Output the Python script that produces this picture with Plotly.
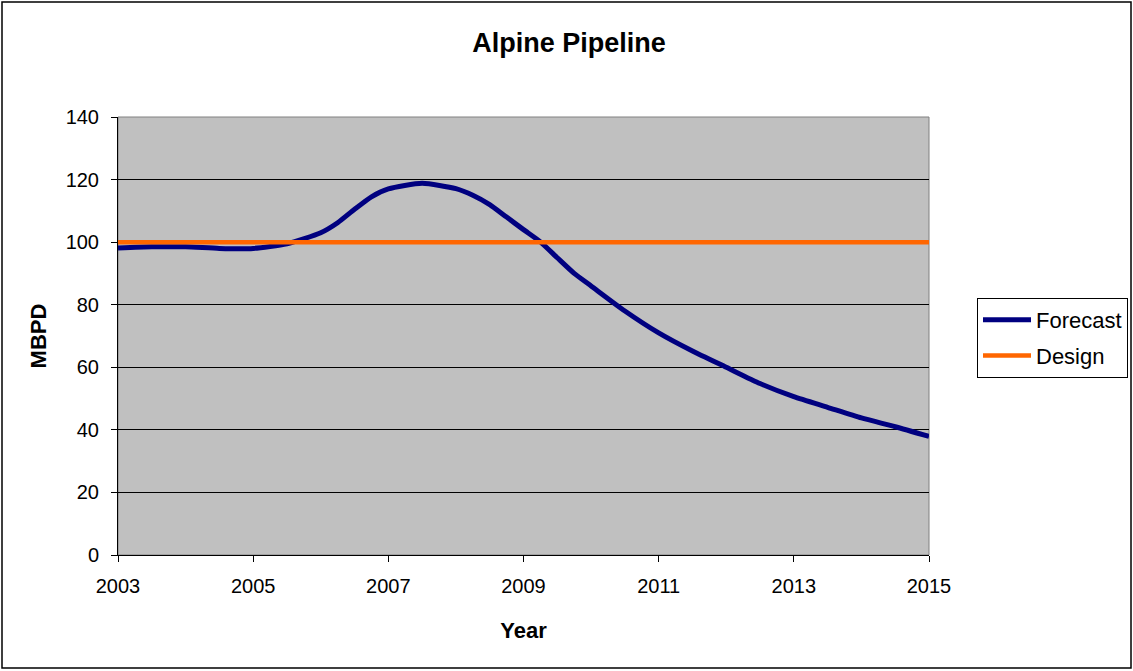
import plotly.graph_objects as go

# Forecast throughput (thousand barrels per day) by year
years = [2003.0, 2003.5, 2004.0, 2004.5, 2005.0, 2005.5, 2006.0, 2006.25, 2006.5,
         2006.75, 2007.0, 2007.5, 2008.0, 2008.25, 2008.5, 2008.75, 2009.0, 2009.25,
         2009.5, 2009.75, 2010.0, 2010.5, 2011.0, 2011.5, 2012.0, 2012.5, 2013.0,
         2013.5, 2014.0, 2014.5, 2015.0]
forecast = [98.1, 98.5, 98.5, 98.0, 98.0, 99.5, 103.0, 106.2, 110.5,
            114.5, 117.0, 118.8, 117.1, 115.0, 112.0, 108.0, 104.0, 100.1,
            95.0, 90.0, 86.0, 78.0, 71.0, 65.2, 60.0, 54.8, 50.6,
            47.2, 43.8, 41.0, 37.9]
design_years = [2003, 2015]
design = [100, 100]

font = "Liberation Sans, Arial, sans-serif"

fig = go.Figure()
fig.add_trace(go.Scatter(x=years, y=forecast, mode="lines", name="Forecast",
                         legendgroup="forecast",
                         line=dict(color="#000080", width=5, shape="spline", smoothing=0.6)))
fig.add_trace(go.Scatter(x=design_years, y=design, mode="lines", name="Design",
                         legendgroup="design",
                         line=dict(color="#FF6600", width=4.5)))

W, H = 1133, 671
ml, mr, mt, mb = 118, 204, 117, 116
pw, ph = W - ml - mr, H - mt - mb

def px_x(p):
    return (p - ml) / pw

def px_y(p):
    return (H - mb - p) / ph

fig.update_layout(
    width=W, height=H,
    margin=dict(l=ml, r=mr, t=mt, b=mb, autoexpand=False),
    paper_bgcolor="white",
    plot_bgcolor="#C0C0C0",
    font=dict(family=font, size=20, color="black"),
    title=dict(text="<b>Alpine Pipeline</b>", x=569 / W, xanchor="center",
               y=1 - 43 / H, yanchor="middle", font=dict(size=27)),
    xaxis=dict(range=[2003, 2015], tickmode="array",
               tickvals=[2003, 2005, 2007, 2009, 2011, 2013, 2015],
               ticks="outside", ticklen=6, tickcolor="black",
               ticklabelstandoff=7,
               showgrid=False, showline=True, linecolor="black", linewidth=1,
               zeroline=False,
               title=dict(text="<b>Year</b>", font=dict(size=22), standoff=26)),
    yaxis=dict(range=[0, 140], tickmode="array",
               tickvals=[0, 20, 40, 60, 80, 100, 120, 140],
               ticks="outside", ticklen=6, tickcolor="black",
               ticklabelstandoff=8,
               showgrid=True, gridcolor="#000000", gridwidth=1,
               showline=True, linecolor="black", linewidth=1, zeroline=False,
               title=dict(text="<b>MBPD</b>", font=dict(size=22), standoff=12)),
    legend=dict(x=px_x(977), y=px_y(298), xanchor="left", yanchor="top",
                bordercolor="black", borderwidth=1, bgcolor="white",
                font=dict(size=22), tracegroupgap=4, itemwidth=48),
    showlegend=True,
)

# plot area frame and outer chart border
fig.add_shape(type="rect", xref="paper", yref="paper", x0=0, x1=1, y0=0, y1=1,
              line=dict(color="#808080", width=1), layer="below")
fig.add_shape(type="rect", xref="paper", yref="paper",
              x0=px_x(2), x1=px_x(1131), y0=px_y(668), y1=px_y(2),
              line=dict(color="black", width=1.5), layer="below")

fig.write_html("out.html")
